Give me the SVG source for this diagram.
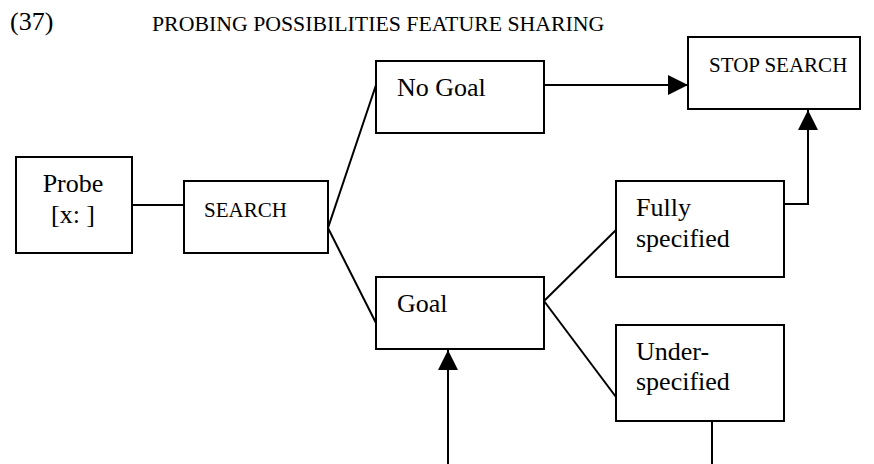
<svg xmlns="http://www.w3.org/2000/svg" width="874" height="464" viewBox="0 0 874 464">
<defs>
<style>
.box{fill:#fff;stroke:#000;stroke-width:2}
.ln{fill:none;stroke:#000;stroke-width:2}
.t{font-family:"Liberation Serif","Times New Roman",serif;fill:#000}
.big{font-size:26px}
.sm{font-size:21px}
</style>
<marker id="ah" viewBox="0 0 20 20" refX="20" refY="10" markerWidth="20" markerHeight="20" markerUnits="userSpaceOnUse" orient="auto">
<path d="M0,0 L20,10 L0,20 Z" fill="#000"/>
</marker>
</defs>
<rect width="874" height="464" fill="#fff"/>
<text class="t big" x="10" y="30">(37)</text>
<text class="t" x="152" y="31" font-size="21.8">PROBING POSSIBILITIES FEATURE SHARING</text>
<g id="connectors">
<line class="ln" x1="133" y1="205" x2="184" y2="205"/>
<polyline class="ln" points="376,85 328,228 376,323"/>
<line class="ln" x1="545" y1="85" x2="688" y2="85" marker-end="url(#ah)"/>
<line class="ln" x1="544" y1="301" x2="616" y2="230"/>
<line class="ln" x1="544" y1="301" x2="616" y2="397"/>
<polyline class="ln" points="785,204 808,204 808,110" marker-end="url(#ah)"/>
<line class="ln" x1="448" y1="464" x2="448" y2="350" marker-end="url(#ah)"/>
<line class="ln" x1="712" y1="422" x2="712" y2="464"/>
</g>
<g id="probe"><rect class="box" x="16" y="157" width="116" height="96"/><text class="t big" x="73" y="192" text-anchor="middle">Probe</text><text class="t big" x="73" y="223" text-anchor="middle">[x: ]</text></g>
<g id="search"><rect class="box" x="184" y="181" width="144" height="72"/><text class="t sm" x="204" y="217">SEARCH</text></g>
<g id="nogoal"><rect class="box" x="376" y="61" width="168" height="72"/><text class="t big" x="397" y="96">No Goal</text></g>
<g id="stop"><rect class="box" x="688" y="37" width="172" height="72"/><text class="t sm" x="709" y="72">STOP SEARCH</text></g>
<g id="fully"><rect class="box" x="616" y="181" width="168" height="96"/><text class="t big" x="636" y="216">Fully</text><text class="t big" x="636" y="247">specified</text></g>
<g id="goal"><rect class="box" x="376" y="277" width="168" height="72"/><text class="t big" x="397" y="312">Goal</text></g>
<g id="under"><rect class="box" x="616" y="325" width="168" height="96"/><text class="t big" x="636" y="360">Under-</text><text class="t big" x="636" y="390">specified</text></g>
</svg>
